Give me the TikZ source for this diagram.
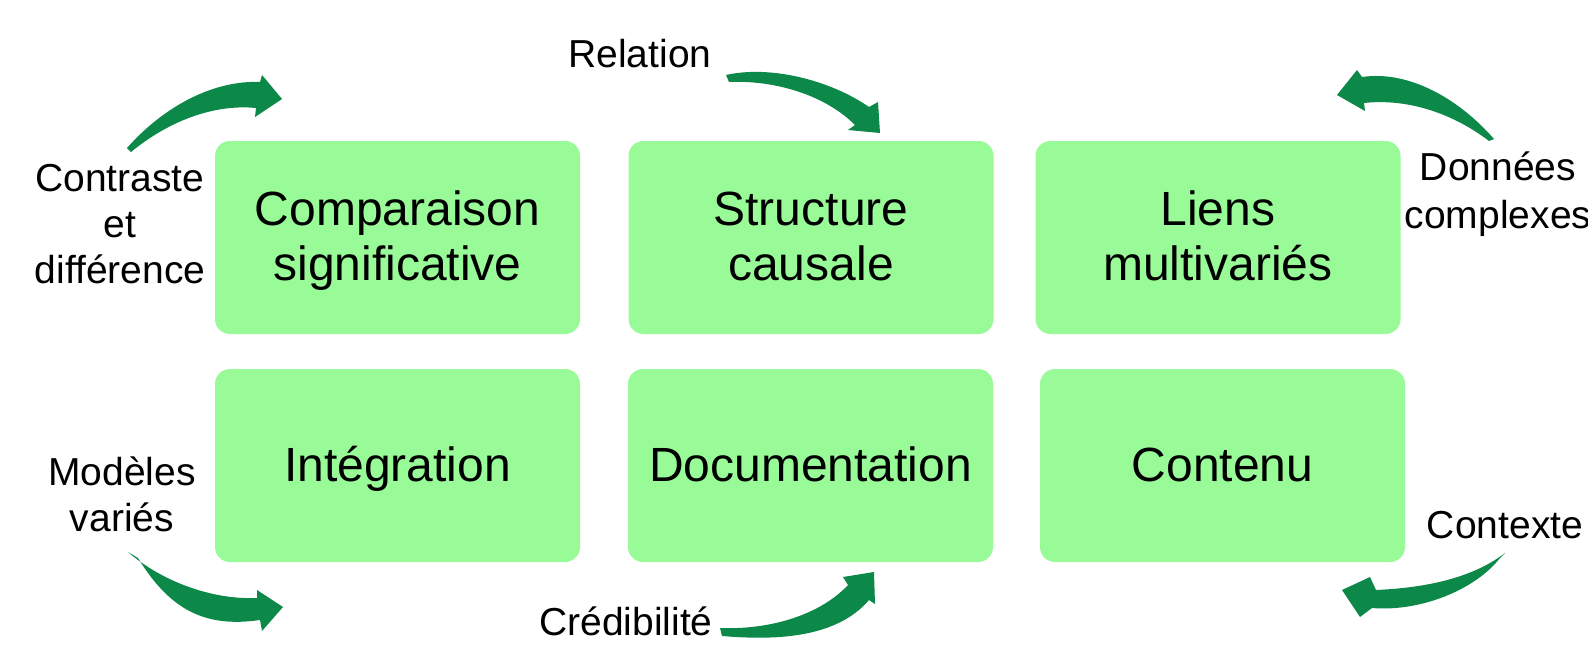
\documentclass[tikz,border=0pt]{standalone}
\usepackage{fontspec}
\setmainfont{Liberation Sans}
\definecolor{boxgreen}{HTML}{98FB98}
\definecolor{arrowgreen}{RGB}{12,136,72}
\newcommand\boxtext[1]{\raisebox{-4.5pt}[\height][\depth]{\begin{tabular}{@{}c@{}}#1\end{tabular}}}
\newcommand\lbltext[1]{\begin{tabular}[t]{@{}c@{}}#1\end{tabular}}
\begin{document}
\begin{tikzpicture}[x=1pt,y=-1pt,
  box/.style={fill=boxgreen, rounded corners=15pt, minimum width=365pt, minimum height=193pt, inner sep=0pt, font=\fontsize{48}{55}\selectfont},
  lbl/.style={inner sep=0pt, anchor=base, font=\fontsize{39}{46}\selectfont},
  bigarrow/.style={fill=arrowgreen, draw=none}]
\fill[white] (0,0) rectangle (1588,672);
\useasboundingbox (0,0) rectangle (1588,672);

% boxes
\node[box] (b1) at (397.5,237.5) {\boxtext{Comparaison\\significative}};
\node[box] (b2) at (811,237.5) {\boxtext{Structure\\causale}};
\node[box] (b3) at (1218,237.5) {\boxtext{Liens\\multivariés}};
\node[box] (b4) at (397.5,465.5) {\boxtext{Intégration}};
\node[box] (b5) at (810.5,465.5) {\boxtext{Documentation}};
\node[box] (b6) at (1222.5,465.5) {\boxtext{Contenu}};

% labels
\node[lbl] (l1) at (120,191) {\lbltext{Contraste\\et\\différence}};
\node[lbl] (l2) at (640,67) {Relation};
\node[lbl, font=\fontsize{39}{48}\selectfont] (l3) at (1498,180) {\lbltext{Données\\complexes}};
\node[lbl] (l4) at (122,485) {\lbltext{Modèles\\variés}};
\node[lbl] (l5) at (626,635) {Crédibilité};
\node[lbl] (l6) at (1505,538) {Contexte};

% arrows
\fill[bigarrow] (127,148) .. controls (165,105) and (215,80) .. (260,82) -- (262,75) -- (282,99) -- (255,117) -- (256,108) .. controls (215,104) and (170,120) .. (131,152) -- cycle;
\fill[bigarrow] (726,75) .. controls (770,65) and (830,80) .. (869,107) -- (878,102) -- (880,133) -- (848,130) -- (855,125) .. controls (825,95) and (775,80) .. (729,82) -- cycle;
\fill[bigarrow] (1494,139) .. controls (1460,100) and (1410,70) .. (1362,77) -- (1357,70) -- (1337,95) -- (1365,111) -- (1364,103) .. controls (1410,98) and (1455,115) .. (1489,141) -- cycle;
\fill[bigarrow] (128,552) .. controls (160,580) and (210,600) .. (257,598) -- (257,590) -- (283,607) -- (262,631) -- (260,620) .. controls (205,628) and (170,610) .. (138,558) -- cycle;
\fill[bigarrow] (720,628) .. controls (770,630) and (820,615) .. (848,585) -- (843,577) -- (874,572) -- (875,604) -- (869,600) .. controls (835,640) and (770,640) .. (722,636) -- cycle;
\fill[bigarrow] (1505,553) .. controls (1470,580) and (1420,588) .. (1376,590) -- (1370,577) -- (1342,590) -- (1360,617) -- (1372,608) .. controls (1420,612) and (1475,590) .. (1500,558) -- cycle;
\end{tikzpicture}
\end{document}
